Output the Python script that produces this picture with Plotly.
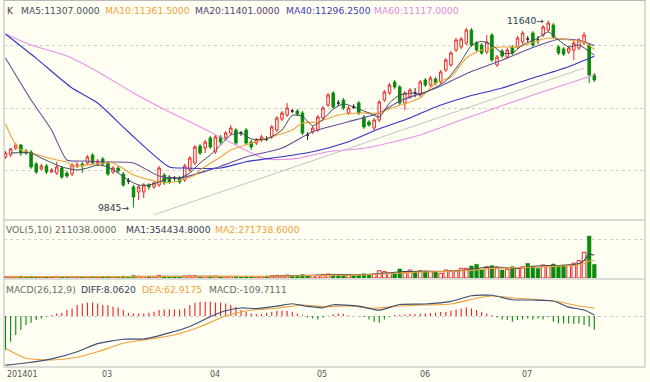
import plotly.graph_objects as go

W, H = 650, 382
BG = '#fefef2'

# ---------------- data ----------------
opens = [10330, 10349, 10416, 10445, 10387, 10378, 10263, 10215, 10244, 10186,
         10176, 10224, 10176, 10167, 10244, 10263, 10272, 10349, 10263, 10311,
         10272, 10186, 10224, 10167, 10099, 10042, 9994, 9994, 10061, 10042,
         10061, 10157, 10138, 10128, 10128, 10109, 10205, 10272, 10435, 10416,
         10512, 10378, 10522, 10512, 10560, 10589, 10560, 10589, 10474, 10464,
         10493, 10503, 10522, 10589, 10694, 10733, 10771, 10771, 10752, 10541,
         10570, 10589, 10704, 10829, 10944, 10848, 10877, 10752, 10810, 10848,
         10714, 10666, 10608, 10685, 10877, 10944, 11050, 11002, 10848, 10906,
         10944, 10925, 11069, 11021, 11079, 11050, 11165, 11213, 11357, 11386,
         11424, 11549, 11424, 11405, 11338, 11501, 11213, 11347, 11290, 11386,
         11386, 11434, 11463, 11520, 11453, 11501, 11549, 11597, 11386, 11367,
         11338, 11357, 11376, 11424, 11405, 11117]
highs = [10387, 10416, 10464, 10455, 10406, 10397, 10282, 10263, 10263, 10224,
         10282, 10243, 10195, 10272, 10282, 10282, 10349, 10368, 10311, 10330,
         10291, 10243, 10243, 10186, 10128, 10061, 10061, 10080, 10080, 10099,
         10243, 10176, 10157, 10147, 10147, 10263, 10339, 10445, 10455, 10493,
         10531, 10541, 10541, 10579, 10637, 10608, 10579, 10608, 10493, 10512,
         10541, 10531, 10637, 10723, 10771, 10848, 10790, 10790, 10771, 10570,
         10627, 10733, 10819, 10944, 10963, 10877, 10896, 10819, 10838, 10867,
         10733, 10685, 10704, 10877, 10973, 11040, 11069, 11021, 10963, 10992,
         10992, 11069, 11088, 11107, 11098, 11165, 11280, 11347, 11472, 11482,
         11568, 11568, 11443, 11424, 11501, 11520, 11309, 11367, 11376, 11405,
         11491, 11539, 11491, 11539, 11491, 11597, 11640, 11616, 11405, 11386,
         11395, 11443, 11472, 11530, 11424, 11136]
lows = [10311, 10330, 10397, 10339, 10349, 10215, 10166, 10205, 10166, 10176,
        10157, 10118, 10128, 10147, 10224, 10176, 10253, 10253, 10243, 10243,
        10147, 10166, 10176, 10042, 10070, 9845, 9917, 9936, 10013, 10023,
        10042, 10061, 10070, 10099, 10070, 10090, 10186, 10253, 10349, 10368,
        10407, 10359, 10455, 10493, 10541, 10445, 10531, 10445, 10397, 10445,
        10474, 10483, 10503, 10570, 10675, 10714, 10752, 10723, 10541, 10493,
        10551, 10570, 10685, 10810, 10790, 10819, 10781, 10733, 10790, 10733,
        10598, 10618, 10589, 10666, 10858, 10925, 10983, 10829, 10781, 10887,
        10906, 10906, 11002, 11002, 11021, 11031, 11146, 11194, 11338, 11367,
        11405, 11386, 11338, 11309, 11318, 11242, 11194, 11280, 11271, 11309,
        11367, 11415, 11434, 11386, 11415, 11482, 11530, 11463, 11309, 11299,
        11318, 11261, 11357, 11405, 11040, 11050]
closes = [10368, 10407, 10445, 10368, 10368, 10234, 10186, 10244, 10186, 10205,
          10234, 10138, 10147, 10253, 10253, 10244, 10330, 10272, 10291, 10263,
          10167, 10224, 10195, 10061, 10099, 9946, 10042, 10061, 10042, 10080,
          10224, 10080, 10090, 10128, 10090, 10244, 10320, 10426, 10368, 10474,
          10426, 10522, 10474, 10560, 10608, 10464, 10560, 10464, 10426, 10493,
          10522, 10503, 10618, 10704, 10752, 10800, 10771, 10742, 10560, 10541,
          10608, 10714, 10800, 10925, 10810, 10848, 10800, 10800, 10810, 10752,
          10618, 10637, 10685, 10858, 10954, 11021, 11002, 10848, 10944, 10973,
          10944, 11050, 11021, 11088, 11040, 11146, 11261, 11328, 11453, 11463,
          11549, 11405, 11357, 11328, 11434, 11261, 11290, 11299, 11357, 11328,
          11472, 11520, 11463, 11405, 11453, 11578, 11616, 11482, 11328, 11318,
          11376, 11424, 11453, 11501, 11117, 11069]
volumes = [22000, 18000, 25000, 30000, 16000, 28000, 24000, 15000, 20000, 12000,
           26000, 22000, 14000, 24000, 12000, 15000, 21000, 25000, 16000, 18000,
           27000, 19000, 14000, 30000, 18000, 38000, 28000, 24000, 15000, 20000,
           35000, 26000, 18000, 14000, 17000, 30000, 32000, 34000, 24000, 22000,
           28000, 30000, 22000, 20000, 26000, 30000, 18000, 28000, 25000, 20000,
           22000, 18000, 34000, 40000, 36000, 45000, 30000, 28000, 52000, 40000,
           38000, 46000, 55000, 62000, 58000, 40000, 48000, 44000, 36000, 52000,
           66000, 48000, 60000, 113000, 98000, 73000, 73000, 140000, 82000, 124000,
           98000, 113000, 110000, 98000, 98000, 73000, 124000, 113000, 113000, 150000,
           150000, 186000, 213000, 124000, 175000, 191000, 166000, 124000, 135000, 175000,
           150000, 175000, 228000, 186000, 150000, 202000, 186000, 217000, 191000, 202000,
           202000, 230000, 270000, 400000, 650000, 211038]
macd_hist = [-272, -205, -152, -112, -72, -53, -32, -19, -5, 8,
             21, 27, 48, 61, 88, 101, 107, 107, 101, 88,
             88, 75, 69, 48, 27, 21, 21, 21, 27, 35,
             48, 53, 53, 53, 53, 61, 88, 107, 115, 115,
             115, 109, 107, 101, 88, 75, 48, 35, 21, 16,
             16, 27, 35, 43, 43, 43, 35, 21, 8, -11,
             -19, -27, -11, 3, 16, 21, 16, 5, 3, -3,
             -8, -27, -45, -53, -27, -5, 8, 11, 13, 16,
             16, 19, 21, 24, 27, 32, 35, 43, 53, 61,
             69, 61, 48, 35, 21, 8, -11, -27, -32, -45,
             -32, -27, -19, -27, -19, -27, -8, -45, -59, -59,
             -59, -64, -59, -72, -85, -109.7111]

ma5_idx = [1, 5, 7, 11, 14, 16, 18, 20, 22, 24, 26, 28, 30, 32, 34, 36, 38, 40, 42, 44,
           46, 48, 51, 54, 56, 58, 60, 62, 64, 66, 68, 71, 73, 75, 77, 80, 81, 83, 86, 89,
           91, 93, 95, 97, 99, 101, 104, 106, 108, 110, 112, 115]
ma5_val = [10368, 10368, 10320, 10234, 10205, 10224, 10253, 10234, 10176, 10109,
           10061, 10061, 10090, 10128, 10128, 10176, 10272, 10349, 10445, 10541,
           10560, 10503, 10503, 10589, 10730, 10720, 10630, 10690, 10790, 10840,
           10810, 10752, 10714, 10848, 10925, 10944, 10930, 10973, 11060, 11250,
           11400, 11440, 11405, 11328, 11328, 11405, 11472, 11530, 11453, 11386,
           11405, 11307]
ma10_idx = [0, 2, 3, 5, 10, 12, 13, 21, 25, 30, 33, 37, 38, 42, 44, 50, 56, 58, 61, 65,
            69, 73, 76, 81, 84, 87, 90, 93, 97, 100, 106, 110, 113, 115]
ma10_val = [10647, 10445, 10397, 10368, 10301, 10282, 10243, 10272, 10157, 10090,
            10090, 10157, 10205, 10330, 10397, 10493, 10589, 10656, 10666, 10733,
            10752, 10752, 10810, 10896, 11040, 11098, 11280, 11357, 11386, 11386,
            11472, 11453, 11434, 11361.5]
ma20_idx = [0, 5, 9, 12, 15, 20, 25, 30, 34, 41, 47, 54, 60, 67, 73, 77, 84, 90, 97, 103,
            108, 112, 115]
ma20_val = [11280, 10877, 10589, 10301, 10291, 10282, 10272, 10147, 10128, 10224,
            10330, 10416, 10573, 10669, 10752, 10867, 10990, 11130, 11260, 11380,
            11460, 11450, 11401]
ma40_idx = [0, 6, 13, 18, 24, 32, 35, 42, 47, 54, 60, 67, 73, 79, 84, 90, 97, 103, 110, 115]
ma40_val = [11511, 11277, 10992, 10848, 10570, 10234, 10224, 10224, 10285, 10333,
            10381, 10477, 10600, 10704, 10810, 10906, 10992, 11088, 11197, 11296.25]
ma60_idx = [0, 5, 12, 18, 25, 32, 38, 44, 51, 57, 63, 70, 81, 89, 103, 115]
ma60_val = [11511, 11405, 11299, 11149, 10944, 10762, 10621, 10468, 10310, 10317,
            10381, 10413, 10541, 10685, 10925, 11117]
trend_idx = [29, 113]
trend_val = [9775, 11184]

vma1_idx = [0, 10, 20, 30, 40, 50, 55, 60, 65, 70, 74, 78, 82, 86, 90, 93, 96, 100, 104,
            108, 111, 112, 113, 114, 115]
vma1_val = [22000, 20000, 21000, 25000, 26000, 24000, 36000, 42000, 52000, 52000,
            75000, 100000, 105000, 102000, 125000, 160000, 170000, 150000, 185000,
            195000, 210000, 225000, 270000, 370000, 354434.8]
vma2_idx = [0, 10, 20, 30, 40, 50, 60, 70, 76, 80, 86, 90, 95, 100, 105, 110, 112, 113,
            114, 115]
vma2_val = [22000, 21000, 21000, 23000, 25000, 25000, 38000, 48000, 72000, 90000,
            102000, 112000, 150000, 160000, 172000, 190000, 200000, 225000, 265000,
            271738.6]

diff_idx = [0, 4, 9, 14, 18, 23, 27, 32, 36, 40, 43, 46, 49, 53, 56, 59, 62, 64, 69, 73,
            77, 82, 87, 91, 95, 99, 103, 107, 110, 113, 115]
diff_val = [-393, -376, -343, -286, -221, -186, -184, -135, -84, -6, 42, 64, 60, 79, 98,
            77, 66, 90, 79, 47, 92, 96, 117, 162, 166, 130, 128, 120, 71, 48, 8.062]
dea_idx = [0, 4, 9, 14, 18, 23, 28, 33, 38, 43, 48, 53, 58, 62, 67, 72, 77, 82, 87, 92,
           95, 100, 105, 108, 111, 115]
dea_val = [-258, -338, -352, -330, -286, -218, -186, -152, -86, 0, 48, 62, 88, 74, 80,
           62, 80, 88, 96, 142, 160, 142, 128, 114, 88, 62.9175]

tick_idx = [0, 19, 40, 61, 81, 101]
tick_labels = ['201401', '03', '04', '05', '06', '07']

high_mark_idx, high_mark_val = 106, 11640
low_mark_idx, low_mark_val = 25, 9845

# ---------------- colours ----------------
RED = '#e8262a'
GREEN = '#0a8a0a'
C_MA5 = '#3f4a5a'
C_MA10 = '#f0a23c'
C_MA20 = '#6a4c9c'
C_MA40 = '#3434c4'
C_MA60 = '#e890e8'

idx = list(range(len(closes)))
up = [i for i in idx if closes[i] > opens[i]]
dn = [i for i in idx if closes[i] < opens[i]]
dj = [i for i in idx if closes[i] == opens[i]]


def sub(arr, sel):
    return [arr[i] for i in sel]


fig = go.Figure()


def candle(sel, line_col, fill_col):
    fig.add_trace(go.Candlestick(
        x=sel, open=sub(opens, sel), high=sub(highs, sel), low=sub(lows, sel),
        close=sub(closes, sel), xaxis='x', yaxis='y',
        increasing=dict(line=dict(color=line_col, width=1), fillcolor=fill_col),
        decreasing=dict(line=dict(color=line_col, width=1), fillcolor=fill_col),
        whiskerwidth=0, showlegend=False, hoverinfo='skip'))


candle(up, RED, BG)
candle(dn, GREEN, GREEN)
candle(dj, '#222222', '#222222')


def line(xs, ys, color, yaxis='y', width=1.1):
    fig.add_trace(go.Scatter(x=xs, y=ys, mode='lines', yaxis=yaxis,
                             line=dict(color=color, width=width, shape='spline', smoothing=0.6),
                             showlegend=False, hoverinfo='skip'))


line(trend_idx, trend_val, '#c4c4c4', width=1)
line(ma60_idx, ma60_val, C_MA60)
line(ma40_idx, ma40_val, C_MA40)
line(ma20_idx, ma20_val, C_MA20)
line(ma10_idx, ma10_val, C_MA10)
line(ma5_idx, ma5_val, C_MA5, width=1)

# volume
fig.add_trace(go.Bar(x=up, y=sub(volumes, up), yaxis='y2', width=0.72,
                     marker=dict(color=BG, line=dict(color=RED, width=1)),
                     showlegend=False, hoverinfo='skip'))
dn2 = dn + dj
fig.add_trace(go.Bar(x=dn2, y=sub(volumes, dn2), yaxis='y2', width=0.72,
                     marker=dict(color=GREEN, line=dict(color=GREEN, width=0.5)),
                     showlegend=False, hoverinfo='skip'))
line(vma1_idx, vma1_val, C_MA5, yaxis='y2')
line(vma2_idx, vma2_val, C_MA10, yaxis='y2')

# macd
pos = [i for i in idx if macd_hist[i] >= 0]
neg = [i for i in idx if macd_hist[i] < 0]
fig.add_trace(go.Bar(x=pos, y=sub(macd_hist, pos), yaxis='y3', width=0.22,
                     marker=dict(color=RED, line=dict(width=0)), showlegend=False, hoverinfo='skip'))
fig.add_trace(go.Bar(x=neg, y=sub(macd_hist, neg), yaxis='y3', width=0.22,
                     marker=dict(color=GREEN, line=dict(width=0)), showlegend=False, hoverinfo='skip'))
line(dea_idx, dea_val, C_MA10, yaxis='y3', width=1.2)
line(diff_idx, diff_val, '#3d5070', yaxis='y3', width=1.2)


# ---------------- layout ----------------
def fy(py):
    return 1 - py / H


def fx(px):
    return px / W


X0, X1 = 4, 645
DX = 5.12
XR0 = -(5.5 - X0) / DX
GRID = dict(showgrid=True, gridcolor='#cfcfcf', griddash='dot', gridwidth=1,
            zeroline=False, showticklabels=False, ticks='', showline=False, fixedrange=True)

fig.update_layout(
    width=W, height=H, margin=dict(l=0, r=0, t=0, b=0),
    paper_bgcolor=BG, plot_bgcolor=BG, hovermode=False, barmode='overlay',
    xaxis=dict(domain=[fx(X0), fx(X1)], range=[XR0, XR0 + (X1 - X0) / DX],
               showgrid=False, zeroline=False, showticklabels=False, ticks='',
               rangeslider=dict(visible=False), anchor='y3', fixedrange=True),
    yaxis=dict(domain=[fy(220), fy(0)], range=[11837 - 9.6 * 220, 11837],
               tickvals=[10200, 10800, 11400], **GRID),
    yaxis2=dict(domain=[fy(278), fy(220)], range=[0, 900000], tickvals=[600000], **GRID),
    yaxis3=dict(domain=[fy(367), fy(279)], range=[-408, 296], tickvals=[0], **GRID),
)

FRAME = '#b9b9b9'
shapes = []
for py in [0.5, 220, 279, 367]:
    shapes.append(dict(type='line', xref='paper', yref='paper', x0=fx(X0), x1=fx(X1),
                       y0=fy(py), y1=fy(py), line=dict(color=FRAME, width=1)))
for px in [X0, X1]:
    shapes.append(dict(type='line', xref='paper', yref='paper', x0=fx(px), x1=fx(px),
                       y0=fy(0), y1=fy(367), line=dict(color=FRAME, width=1)))
fig.update_layout(shapes=shapes)

FONT = 'DejaVu Sans'
ann = []


def txt(px, py, s, color, size=9.2, anchor='left'):
    ann.append(dict(x=fx(px), y=fy(py), xref='paper', yref='paper', text=s, showarrow=False,
                    xanchor=anchor, yanchor='middle', font=dict(family=FONT, size=size, color=color)))


txt(5, 11, 'K', '#444444')
txt(19, 11, 'MA5:%.4f' % ma5_val[-1], '#4a5060')
txt(103, 11, 'MA10:%.4f' % ma10_val[-1], C_MA10)
txt(193, 11, 'MA20:%.4f' % ma20_val[-1], '#5a3c78')
txt(284, 11, 'MA40:%.4f' % ma40_val[-1], '#4040b8')
txt(372, 11, 'MA60:%.4f' % ma60_val[-1], '#e08ae0')

txt(4, 229, 'VOL(5,10) %.4f' % volumes[-1], '#6a6a6a')
txt(124, 229, 'MA1:%.4f' % vma1_val[-1], '#34405a')
txt(213, 229, 'MA2:%.4f' % vma2_val[-1], C_MA10)

txt(4, 289, 'MACD(26,12,9)', '#6a6a6a')
txt(79, 289, 'DIFF:%.4f' % diff_val[-1], '#34405a')
txt(140, 289, 'DEA:%.4f' % dea_val[-1], C_MA10)
txt(207, 289, 'MACD:%.4f' % macd_hist[-1], '#6a6a6a')

for ti, tl in zip(tick_idx, tick_labels):
    px = X0 + (ti - XR0) * DX - 2.5
    txt(max(px, X0 + 0.5), 374, tl, '#555555', size=8)

ann.append(dict(x=high_mark_idx - 0.5, y=high_mark_val, xref='x', yref='y', text='%d\u2192' % high_mark_val,
                showarrow=False, xanchor='right', yanchor='middle',
                font=dict(family=FONT, size=9.2, color='#2a3a4a')))
ann.append(dict(x=low_mark_idx - 0.5, y=low_mark_val, xref='x', yref='y', text='%d\u2192' % low_mark_val,
                showarrow=False, xanchor='right', yanchor='middle',
                font=dict(family=FONT, size=9.2, color='#2a3a4a')))
fig.update_layout(annotations=ann)

fig.write_html('out.html', config={'displayModeBar': False, 'staticPlot': True},
               post_script="document.body.style.margin='0';document.body.style.padding='0';")
